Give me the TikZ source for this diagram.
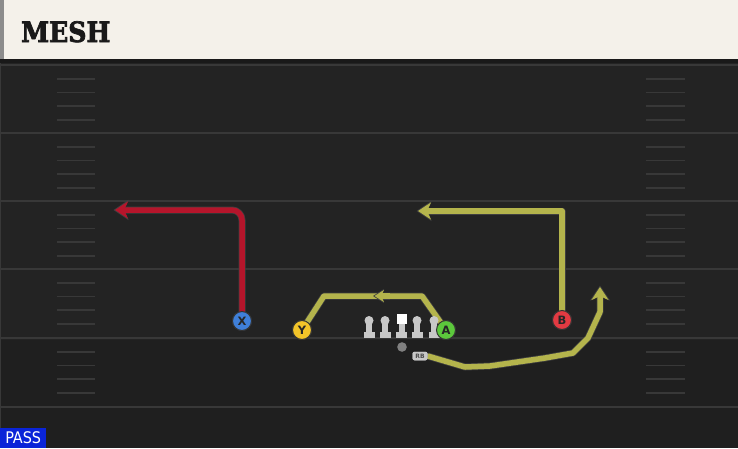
\documentclass[tikz,border=0pt]{standalone}
\usepackage{fontspec}
\setmainfont{DejaVu Sans}
\newfontfamily\titlefont{DejaVu Serif Condensed}[BoldFeatures={FakeBold=2.5}]
\newfontfamily\passfont{DejaVu Sans Condensed}
\usetikzlibrary{arrows.meta}
\definecolor{cream}{HTML}{F4F1EA}
\definecolor{fieldbg}{HTML}{232323}
\definecolor{fieldlow}{HTML}{1F1F1F}
\definecolor{yardc}{HTML}{383838}
\definecolor{hashc}{HTML}{383838}
\definecolor{redroute}{HTML}{B5152B}
\definecolor{oliveroute}{HTML}{B4B44C}
\definecolor{xblue}{HTML}{3F7FD9}
\definecolor{yyellow}{HTML}{F2C429}
\definecolor{agreen}{HTML}{5CC83C}
\definecolor{bred}{HTML}{E23A42}
\definecolor{passblue}{HTML}{0A24D8}
\definecolor{linec}{HTML}{C8C8C8}
\tikzset{
  yardline/.style={draw=yardc, line width=2pt},
  hashline/.style={draw=hashc, line width=1.6pt},
  player/.style={circle, draw=black!80, line width=1pt, minimum size=19pt, inner sep=0pt, font=\bfseries\fontsize{11.5}{11.5}\selectfont, text=black!85},
  routeout/.style={draw=black!75, line width=7pt, line join=round},
  redr/.style={draw=redroute, line width=5.5pt, line join=round},
  oliver/.style={draw=oliveroute, line width=5.5pt, line join=round},
  tip/.style={-{Stealth[length=13pt,width=17pt,inset=4pt]}},
  tipout/.style={-{Stealth[length=15pt,width=20pt,inset=4.5pt]}},
  lineman/.style={fill=linec},
  rblabel/.style={fill=linec, rounded corners=2pt, inner sep=1.2pt, minimum width=15pt, minimum height=8.5pt, font=\bfseries\fontsize{6}{6}\selectfont, text=black!70},
}
\begin{document}
\begin{tikzpicture}[x=1pt,y=-1pt]
\useasboundingbox (0,0) rectangle (738,448);
% field
\fill[fieldbg] (0,59) rectangle (738,448);
\fill[fieldlow] (0,340) rectangle (738,448);
\draw[draw=yardc, line width=1pt] (0.5,63) -- (0.5,448);
% header
\fill[cream] (0,0) rectangle (738,59);
\fill[black!45] (0,0) rectangle (4,59);
\fill[black!90] (0,59) rectangle (738,63);
\node[anchor=base west, inner sep=0pt, font=\titlefont\bfseries\fontsize{28}{28}\selectfont, text=black!90] (title) at (21,42) {MESH};
% yard lines
\foreach \y in {65,133,201,269,338,407} {
  \draw[yardline] (0,\y) -- (738,\y);
}
% hash marks
\foreach \b in {65,133,201,269,338} {
  \foreach \k in {1,2,3,4} {
    \pgfmathsetmacro{\yy}{\b+13.7*\k}
    \draw[hashline] (57,\yy) -- (95,\yy);
    \draw[hashline] (646,\yy) -- (685,\yy);
  }
}
% players
\node[player, fill=xblue] (X) at (242,321) {X};
\node[player, fill=yyellow] (Y) at (302,330) {Y};
\node[player, fill=agreen] (A) at (446,330) {A};
\node[player, fill=bred] (B) at (562,320) {B};
\coordinate (xend) at (115,210);
\coordinate (xendo) at (113.5,210);
\coordinate (bend) at (418,211);
\coordinate (bendo) at (416.5,211);
\coordinate (ac1) at (422,296);
\coordinate (ac2) at (324,296);
\coordinate (rend) at (600,287);
\coordinate (rendo) at (600,285.5);
% routes
\draw[routeout, tipout, rounded corners=10pt] (X.center) |- (xendo);
\draw[redr, rounded corners=10pt, tip] (X.center) |- (xend);
\draw[routeout, tipout] (B.center) |- (bendo);
\draw[oliver, tip] (B.center) |- (bend);
\draw[routeout] (A.center) -- (ac1) -- (ac2) -- (Y.center);
\draw[oliver] (A.center) -- (ac1) -- (ac2) -- (Y.center);
\coordinate (mida) at (390,296);
\coordinate (midb) at (373,296);
\coordinate (midc) at (374.5,296);
\draw[routeout, -{Stealth[length=11pt,width=14pt,inset=3pt]}] (mida) -- (midb);
\draw[oliver, -{Stealth[length=9.5pt,width=12pt,inset=3pt]}] (mida) -- (midc);
% RB route
\node[rblabel] (RB) at (420,356) {RB};
\coordinate (r1) at (465,367);
\coordinate (r2) at (490,366);
\coordinate (r3) at (545,358);
\coordinate (r4) at (573,353);
\coordinate (r5) at (588,338);
\coordinate (r6) at (600,312);
\draw[routeout, tipout] (RB.east) -- (r1) -- (r2) -- (r3) -- (r4) -- (r5) -- (r6) -- (rendo);
\draw[oliver, tip] (RB.east) -- (r1) -- (r2) -- (r3) -- (r4) -- (r5) -- (r6) -- (rend);
\node[rblabel] at (RB) {RB};
% redraw players on top
\node[player, fill=xblue] at (X) {X};
\node[player, fill=yyellow] at (Y) {Y};
\node[player, fill=bred] at (B) {B};
% linemen
\foreach \lx in {369,385,417,434} {
  \fill[lineman] (\lx,320.5) circle (4.5);
  \fill[lineman] (\lx-3,321) rectangle (\lx+3,333);
  \fill[lineman] (\lx-5.5,331.5) rectangle (\lx+5.5,337.5);
}
\fill[white] (396.5,313.5) rectangle (406.5,323.5);
\fill[lineman] (398.5,323.5) rectangle (404.5,333);
\fill[lineman] (396,331.5) rectangle (407,337.5);
\node[player, fill=agreen] at (A) {A};
% QB
\fill[black!50] (402,347) circle (4.8);
% PASS label
\node[fill=passblue, anchor=south west, inner sep=0pt, minimum width=46pt, minimum height=20pt, text=white, font=\passfont\fontsize{16}{16}\selectfont] (pass) at (0,448) {PASS};
\end{tikzpicture}
\end{document}
